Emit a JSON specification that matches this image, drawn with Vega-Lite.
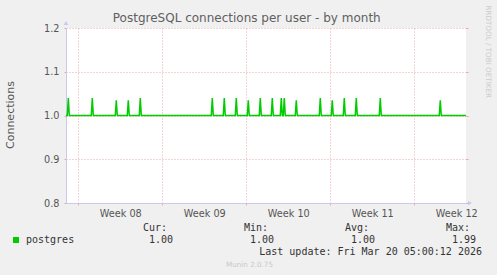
{
  "$schema": "https://vega.github.io/schema/vega-lite/v6.json",
  "background": "#f0f0f0",
  "padding": {"left": 4, "top": 5, "right": 5, "bottom": 11},
  "bounds": "flush",
  "spacing": 25,
  "title": {
    "text": "PostgreSQL connections per user - by month",
    "font": "DejaVu Sans",
    "fontSize": 12,
    "fontWeight": "normal",
    "color": "#606060",
    "anchor": "middle",
    "offset": -20,
    "dx": -1
  },
  "config": {"view": {"stroke": null}},
  "datasets": {
    "conn": [
      {"day": -1.025, "value": 1},
      {"day": -0.917, "value": 1}, {"day": -0.833, "value": 1.04}, {"day": -0.75, "value": 1},
      {"day": 1.083, "value": 1}, {"day": 1.167, "value": 1.04}, {"day": 1.25, "value": 1},
      {"day": 3.083, "value": 1}, {"day": 3.167, "value": 1.035}, {"day": 3.25, "value": 1},
      {"day": 4.083, "value": 1}, {"day": 4.167, "value": 1.035}, {"day": 4.25, "value": 1},
      {"day": 5.083, "value": 1}, {"day": 5.167, "value": 1.04}, {"day": 5.25, "value": 1},
      {"day": 11.083, "value": 1}, {"day": 11.167, "value": 1.04}, {"day": 11.25, "value": 1},
      {"day": 12.083, "value": 1}, {"day": 12.167, "value": 1.04}, {"day": 12.25, "value": 1},
      {"day": 13.083, "value": 1}, {"day": 13.167, "value": 1.04}, {"day": 13.25, "value": 1},
      {"day": 14.083, "value": 1}, {"day": 14.167, "value": 1.035}, {"day": 14.25, "value": 1},
      {"day": 15.083, "value": 1}, {"day": 15.167, "value": 1.04}, {"day": 15.25, "value": 1},
      {"day": 16.083, "value": 1}, {"day": 16.167, "value": 1.04}, {"day": 16.25, "value": 1},
      {"day": 16.833, "value": 1}, {"day": 16.917, "value": 1.04}, {"day": 17.0, "value": 1},
      {"day": 17.083, "value": 1}, {"day": 17.167, "value": 1.04}, {"day": 17.25, "value": 1},
      {"day": 18.083, "value": 1}, {"day": 18.167, "value": 1.035}, {"day": 18.25, "value": 1},
      {"day": 20.083, "value": 1}, {"day": 20.167, "value": 1.04}, {"day": 20.25, "value": 1},
      {"day": 21.083, "value": 1}, {"day": 21.167, "value": 1.035}, {"day": 21.25, "value": 1},
      {"day": 22.083, "value": 1}, {"day": 22.167, "value": 1.04}, {"day": 22.25, "value": 1},
      {"day": 23.083, "value": 1}, {"day": 23.167, "value": 1.04}, {"day": 23.25, "value": 1},
      {"day": 25.083, "value": 1}, {"day": 25.167, "value": 1.04}, {"day": 25.25, "value": 1},
      {"day": 30.083, "value": 1}, {"day": 30.167, "value": 1.035}, {"day": 30.25, "value": 1},
      {"day": 32.31, "value": 1}
    ],
    "stats": [
      {"row": "head", "col": "Cur", "text": "Cur:"},
      {"row": "head", "col": "Min", "text": "Min:"},
      {"row": "head", "col": "Avg", "text": "Avg:"},
      {"row": "head", "col": "Max", "text": "Max:"},
      {"row": "val", "col": "Cur", "text": "1.00"},
      {"row": "val", "col": "Min", "text": "1.00"},
      {"row": "val", "col": "Avg", "text": "1.00"},
      {"row": "val", "col": "Max", "text": "1.99"},
      {"row": "update", "col": "Max", "text": "Last update: Fri Mar 20 05:00:12 2026"}
    ],
    "series": [
      {"row": "val", "part": "swatch", "name": "postgres"},
      {"row": "val", "part": "name", "name": "postgres"}
    ]
  },
  "vconcat": [
    {
      "width": 400,
      "height": 175,
      "view": {"fill": "white", "stroke": null},
      "layer": [
        {
          "data": {"name": "conn"},
          "mark": {"type": "line", "color": "#00cc00", "strokeWidth": 1.5, "interpolate": "linear"},
          "encoding": {
            "x": {
              "field": "day", "type": "quantitative",
              "scale": {"domain": [-1.025, 32.31], "nice": false, "zero": false},
              "axis": {
                "values": [0,1,2,3,3.5,4,5,6,7,8,9,10,10.5,11,12,13,14,15,16,17,17.5,18,19,20,21,22,23,24,24.5,25,26,27,28,29,30,31,31.5,32],
                "title": null,
                "grid": true,
                "gridColor": {"condition": {"test": "datum.value % 7 === 0", "value": "#e8a8a8"}, "value": "#cccccc"},
                "gridOpacity": {"condition": {"test": "datum.value % 1 !== 0", "value": 0}, "value": 1},
                "gridDash": [1, 2],
                "tickColor": {"condition": {"test": "datum.value % 7 === 0", "value": "#e8a8a8"}, "value": "#cccccc"},
                "tickOpacity": {"condition": {"test": "datum.value % 1 !== 0", "value": 0}, "value": 1},
                "tickSize": 2,
                "domainColor": "#c8c8f0",
                "labelExpr": "datum.value % 1 !== 0 ? 'Week ' + (floor(datum.value / 7) + 8 < 10 ? '0' : '') + (floor(datum.value / 7) + 8) : ''",
                "labelOverlap": false,
                "labelFont": "DejaVu Sans",
                "labelFontSize": 9.7,
                "labelColor": "#555555",
                "labelPadding": 3
              }
            },
            "y": {
              "field": "value", "type": "quantitative",
              "scale": {"domain": [0.8, 1.2], "nice": false, "zero": false},
              "axis": {
                "values": [0.8, 0.9, 1.0, 1.1, 1.2],
                "format": ".1f",
                "grid": true,
                "gridColor": "#e8a8a8",
                "gridDash": [1, 2],
                "tickColor": "#e8a8a8",
                "tickSize": 2,
                "domainColor": "#c8c8f0",
                "labelFont": "DejaVu Sans",
                "labelFontSize": 9.7,
                "labelColor": "#555555",
                "labelPadding": 5,
                "title": "Connections",
                "titleFont": "DejaVu Sans",
                "titleFontSize": 11,
                "titleFontWeight": "normal",
                "titleColor": "#555555",
                "titleAngle": 270,
                "titleAlign": "center",
                "titleBaseline": "alphabetic",
                "titleX": -53,
                "titleY": 86.5
              }
            }
          }
        },
        {
          "data": {"values": [{}]},
          "mark": {"type": "point", "shape": "triangle-up", "filled": true, "size": 22, "color": "#c8c8f0", "opacity": 1, "yOffset": -5},
          "encoding": {
            "x": {"datum": -1.025, "type": "quantitative"},
            "y": {
              "datum": 1.2, "type": "quantitative",
              "axis": {
                "orient": "right",
                "values": [0.8, 0.9, 1.0, 1.1, 1.2],
                "labels": false,
                "grid": false,
                "domain": false,
                "ticks": true,
                "tickColor": "#e8a8a8",
                "tickSize": 2,
                "title": "RRDTOOL / TOBI OETIKER",
                "titleAngle": 90,
                "titleAlign": "left",
                "titleBaseline": "middle",
                "titleX": 21.5,
                "titleY": -23,
                "titleFont": "DejaVu Sans",
                "titleFontSize": 7.2,
                "titleFontWeight": "normal",
                "titleColor": "#cccccc"
              }
            }
          }
        },
        {
          "data": {"values": [{}]},
          "mark": {"type": "point", "shape": "triangle-right", "filled": true, "size": 22, "color": "#c8c8f0", "opacity": 1, "xOffset": 4},
          "encoding": {
            "x": {"datum": 32.31, "type": "quantitative"},
            "y": {"datum": 0.8, "type": "quantitative", "axis": null}
          }
        }
      ],
      "resolve": {"axis": {"y": "independent"}}
    },
    {
      "width": 400,
      "height": 24,
      "view": {"stroke": null},
      "title": {
        "text": "Munin 2.0.75",
        "orient": "bottom",
        "anchor": "middle",
        "font": "DejaVu Sans",
        "fontSize": 7.2,
        "fontWeight": "normal",
        "color": "#c8c8c8",
        "dx": -16.5,
        "offset": 4
      },
      "layer": [
        {
          "data": {"name": "stats"},
          "encoding": {
            "x": {"field": "col", "type": "nominal", "axis": null,
                  "scale": {"type": "point", "domain": ["Cur", "Min", "Avg", "Max"], "range": [107, 410], "padding": 0}},
            "y": {"field": "row", "type": "nominal", "axis": null,
                  "scale": {"type": "point", "domain": ["head", "val", "update"], "padding": 0}},
            "text": {"field": "text"}
          },
          "layer": [
            {
              "transform": [{"filter": "datum.row === 'head'"}],
              "mark": {"type": "text", "align": "right", "baseline": "middle", "dx": -6, "font": "DejaVu Sans Mono", "fontSize": 10, "color": "#333333"}
            },
            {
              "transform": [{"filter": "datum.row === 'val'"}],
              "mark": {"type": "text", "align": "right", "baseline": "middle", "font": "DejaVu Sans Mono", "fontSize": 10, "color": "#333333"}
            },
            {
              "transform": [{"filter": "datum.row === 'update'"}],
              "mark": {"type": "text", "align": "right", "baseline": "middle", "dx": 6, "font": "DejaVu Sans Mono", "fontSize": 10, "color": "#333333"}
            }
          ]
        },
        {
          "data": {"name": "series"},
          "encoding": {
            "x": {"field": "part", "type": "nominal", "axis": null,
                  "scale": {"type": "point", "domain": ["swatch", "name"], "range": [-50, -40], "padding": 0}},
            "y": {"field": "row", "type": "nominal", "axis": null}
          },
          "layer": [
            {
              "transform": [{"filter": "datum.part === 'swatch'"}],
              "mark": {"type": "point", "shape": "square", "filled": true, "size": 36, "color": "#00cc00", "opacity": 1}
            },
            {
              "transform": [{"filter": "datum.part === 'name'"}],
              "mark": {"type": "text", "align": "left", "baseline": "middle", "font": "DejaVu Sans Mono", "fontSize": 10, "color": "#333333"},
              "encoding": {"text": {"field": "name"}}
            }
          ]
        }
      ],
      "resolve": {"scale": {"x": "independent"}}
    }
  ]
}
